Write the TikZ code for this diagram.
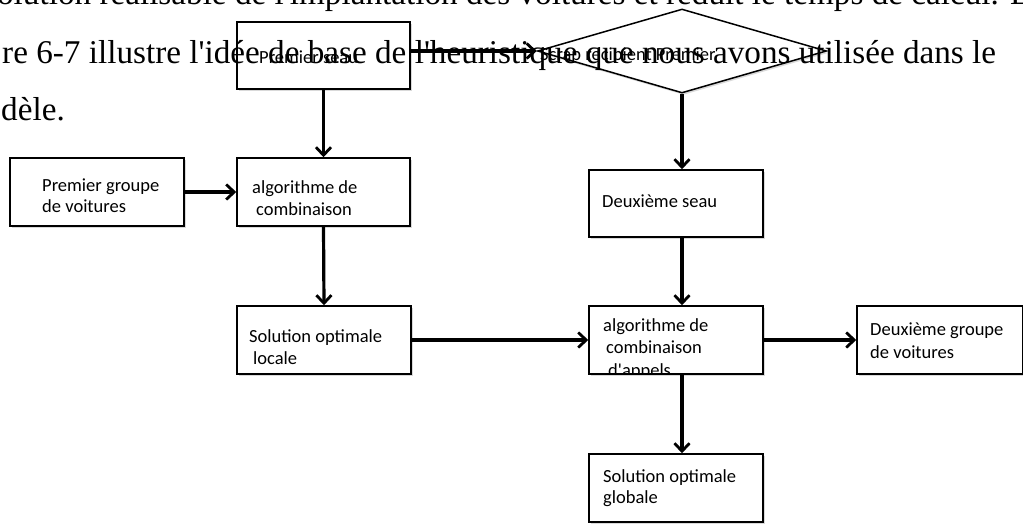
\documentclass[tikz,border=0pt]{standalone}
\usepackage{fontspec}
\newfontfamily\bodyfont{Liberation Serif}
\newfontfamily\calibrifont{Carlito}
\usetikzlibrary{arrows.meta,shapes.geometric,shadows}
\begin{document}
\begin{tikzpicture}[x=1pt,y=-1pt,
  boxstyle/.style={draw=black,line width=1.5pt,fill=white,inner sep=0pt,
    minimum width=174pt,minimum height=68pt,
    drop shadow={shadow xshift=1.5pt,shadow yshift=-2pt,opacity=0.15,fill=black}},
  diastyle/.style={boxstyle,diamond,minimum width=289pt,minimum height=84pt},
  flow/.style={line width=3.2pt,-{Straight Barb[length=8pt,width=15pt,line width=2.8pt]}},
  lbl/.style={anchor=base west,inner sep=0pt,font=\calibrifont\fontsize{18.5}{22}\selectfont},
  body/.style={anchor=base west,inner sep=0pt,font=\bodyfont\fontsize{33.2}{33}\selectfont}]
\useasboundingbox (0,0) rectangle (1023,523);
\fill[white] (0,0) rectangle (1023,523);
\clip (0,0) rectangle (1023,523);

% boxes
\node[boxstyle,minimum width=173pt,minimum height=67pt] (ps) at (323.5,55.5) {};
\node[diastyle] (dia) at (682,51) {};
\node[boxstyle] (pg) at (97,192) {};
\node[boxstyle,minimum width=173pt] (a1) at (323.5,192) {};
\node[boxstyle,minimum height=67pt] (ds) at (676,203.5) {};
\node[boxstyle] (sl) at (324,340) {};
\node[boxstyle] (a2) at (676,340) {};
\node[boxstyle,minimum width=166pt] (dg) at (940,340) {};
\node[boxstyle] (sg) at (676,488) {};

% connectors
\draw[flow] (ps.east |- dia.west) -- (dia.west);
\draw[flow] (ps.south) -- (a1.north);
\draw[flow] (pg.east) -- (a1.west);
\draw[flow] (a1.south) -- (sl.north);
\draw[flow] (sl.east) -- (a2.west);
\draw[flow] (a2.east) -- (dg.west);
\draw[flow] (dia.south) -- (dia.south |- ds.north);
\draw[flow] (ds.south -| dia.south) -- (a2.north -| dia.south);
\draw[flow] (a2.south -| dia.south) -- (sg.north -| dia.south);

% body text of the page
\node[body] (t1) at (-16,4) {solution réalisable de l'implantation des voitures et réduit le temps de calcul. La};
\node[body] (t2) at (2,63) {re 6-7 illustre l'idée de base de l'heuristique que nous avons utilisée dans le};
\node[body] (t3) at (1,120) {dèle.};

% box labels
\node[lbl] (lps) at (259,63) {Premier seau};
\node[lbl] (ldia) at (540,60) {Scrap recipient Premier};
\node[lbl] (lpg1) at (42,191) {Premier groupe};
\node[lbl] (lpg2) at (42,212) {de voitures};
\node[lbl] (la11) at (252,193) {algorithme de};
\node[lbl] (la12) at (256,215) {combinaison};
\node[lbl] (lds) at (602,207) {Deuxième seau};
\node[lbl] (lsl1) at (249,342) {Solution optimale};
\node[lbl] (lsl2) at (253,364) {locale};
\node[lbl] (la21) at (603,331) {algorithme de};
\node[lbl] (la22) at (606,353) {combinaison};
\begin{scope}
  \clip (a2.north west) rectangle (a2.south east);
  \node[lbl] (la23) at (608,376) {d'appels};
\end{scope}
\node[lbl] (ldg1) at (870,335) {Deuxième groupe};
\node[lbl] (ldg2) at (870,358) {de voitures};
\node[lbl] (lsg1) at (603,482) {Solution optimale};
\node[lbl] (lsg2) at (603,503) {globale};
\end{tikzpicture}
\end{document}
